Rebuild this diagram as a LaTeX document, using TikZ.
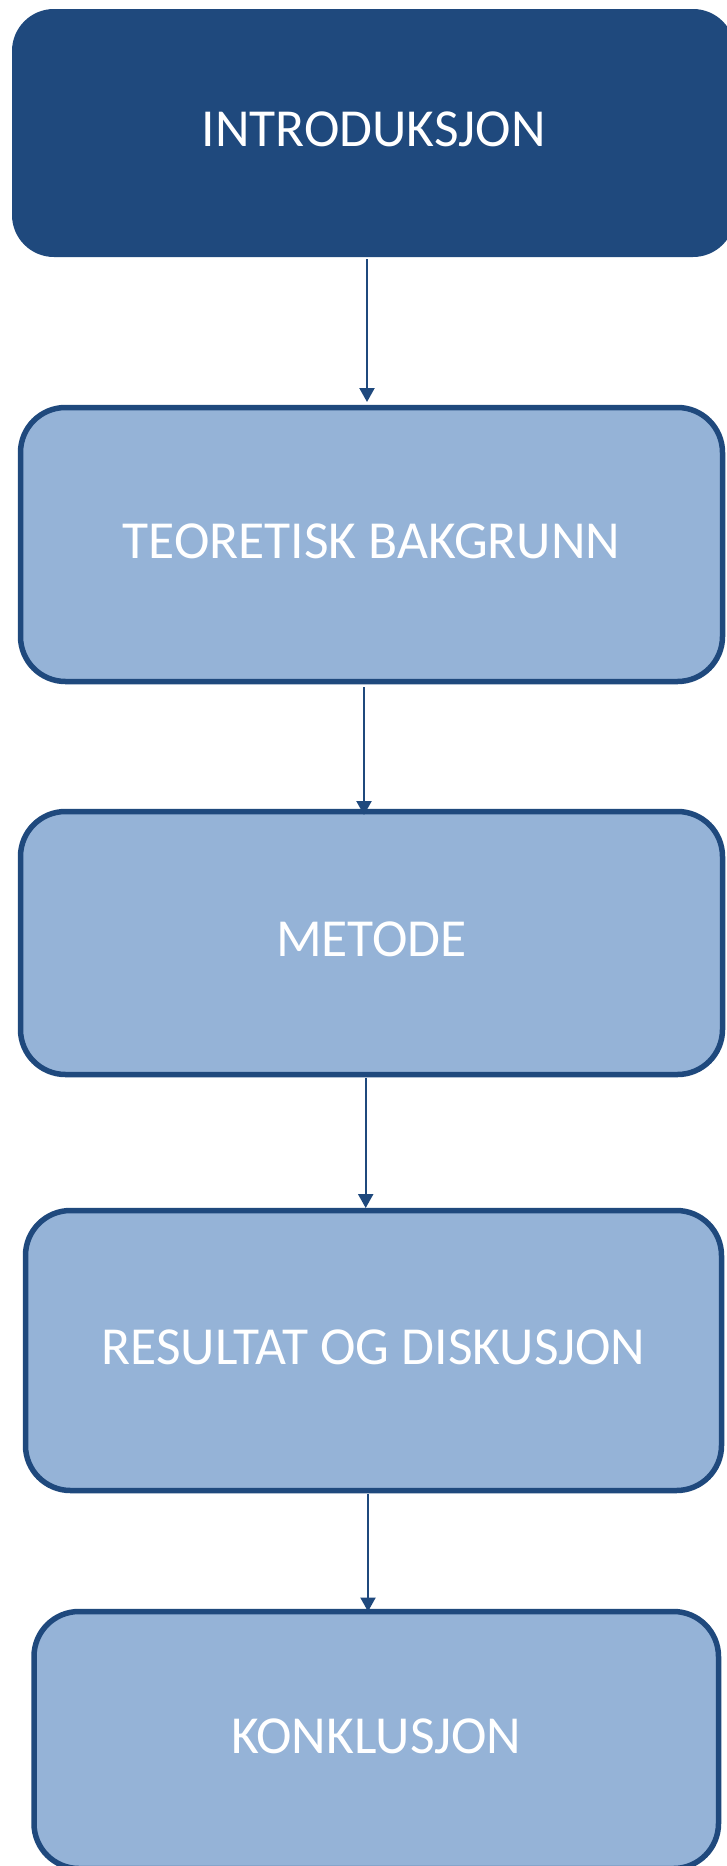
\documentclass[tikz,border=0pt]{standalone}
\usepackage{fontspec}
\setmainfont{Carlito}
\usetikzlibrary{arrows.meta}
\definecolor{darkblue}{HTML}{1F497D}
\definecolor{lightblue}{HTML}{95B3D7}
\tikzset{
  boxtext/.style={text=white, font=\fontsize{53.5}{60}\selectfont,
    text height=34pt, text depth=7pt},
  stagebox/.style={rectangle, rounded corners=45pt, draw=darkblue, line width=5.5pt,
    fill=lightblue, inner sep=0pt, outer sep=0pt, boxtext},
  headbox/.style={rectangle, rounded corners=42pt, fill=darkblue, inner sep=0pt,
    outer sep=0pt, boxtext},
  flow/.style={draw=darkblue, line width=2.2pt,
    -{Triangle[length=14pt,width=15pt]}}
}
\begin{document}
\begin{tikzpicture}[x=1pt,y=-1pt]
  \useasboundingbox (0,0) rectangle (726,1866);
  \fill[white] (0,0) rectangle (726,1866);

  % chapters of the thesis, top to bottom
  \node[headbox, minimum width=723pt, minimum height=248pt] (intro) at (373.5,133) {INTRODUKSJON};
  \node[stagebox, minimum width=702pt, minimum height=274pt] (teori) at (371.5,544.5) {TEORETISK BAKGRUNN};
  \node[stagebox, minimum width=702pt, minimum height=263pt] (metode) at (371.5,943) {METODE};
  \node[stagebox, minimum width=696pt, minimum height=280pt] (resultat) at (373.5,1350.5) {RESULTAT OG DISKUSJON};
  \node[stagebox, minimum width=684.5pt, minimum height=257pt] (konklusjon) at (376.25,1740) {KONKLUSJON};

  % connecting arrows
  \draw[flow] ([xshift=-6.5pt,yshift=-2pt]intro.south) -- ([xshift=-4.5pt,yshift=5.5pt]teori.north);
  \draw[flow] ([xshift=-7.5pt,yshift=-5.5pt]teori.south) -- ([xshift=-7.5pt,yshift=-3.5pt]metode.north);
  \draw[flow] ([xshift=-5.8pt,yshift=-3.5pt]metode.south) -- ([xshift=-7.8pt,yshift=2.5pt]resultat.north);
  \draw[flow] ([xshift=-5.5pt,yshift=-3.5pt]resultat.south) -- ([xshift=-8.25pt,yshift=0pt]konklusjon.north);
\end{tikzpicture}
\end{document}
